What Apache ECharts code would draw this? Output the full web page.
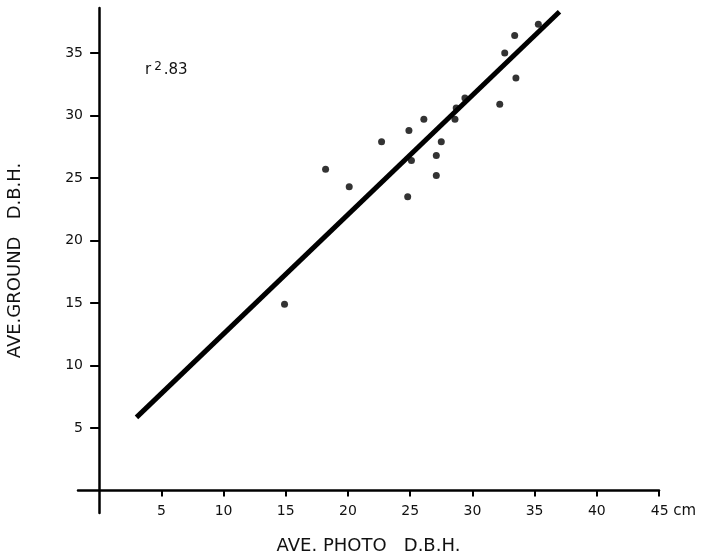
<!DOCTYPE html>
<html>
<head>
<meta charset="utf-8">
<script src="https://cdn.jsdelivr.net/npm/echarts@6/dist/echarts.min.js"></script>
<style>
  html, body { margin: 0; padding: 0; background: #fff; }
  #container { width: 702px; height: 560px; }
</style>
</head>
<body>
<div id="container"></div>
<script>
// photo dbh (cm) vs ground dbh (cm)
var photoDbh  = [14.9, 18.2, 20.1, 22.7, 24.8, 24.9, 25.1, 26.1, 27.1, 27.1, 27.5, 28.6, 28.7, 29.4, 32.2, 32.6, 33.4, 33.5, 35.3];
var groundDbh = [14.9, 25.7, 24.3, 27.9, 23.5, 28.8, 26.4, 29.7, 26.8, 25.2, 27.9, 29.7, 30.6, 31.4, 30.9, 35.0, 36.4, 33.0, 37.3];

// fitted line ends
var fitX = [3, 37];
var fitY = [5.85, 38.3];

var xTicks = [5, 10, 15, 20, 25, 30, 35, 40, 45];
var yTicks = [5, 10, 15, 20, 25, 30, 35];

var fontFam = '"DejaVu Sans", Lato, sans-serif';

function obtenerGrafica() {
	var dom = document.getElementById("container");
	var chart = echarts.init(dom, null, { renderer: 'canvas' });

	var puntos = photoDbh.map(function (x, i) { return [x, groundDbh[i]]; });
	var recta = fitX.map(function (x, i) { return [x, fitY[i]]; });

	var option = {
		animation: false,
		backgroundColor: '#fff',
		title: {
			text: 'r{s|2}.83',
			left: 140,
			top: 56,
			textStyle: {
				fontFamily: fontFam,
				fontSize: 15,
				fontWeight: 'normal',
				color: '#111',
				rich: {
					s: { fontFamily: fontFam, fontSize: 12, color: '#111', verticalAlign: 'top', padding: [0, 2, 7, 3] }
				}
			}
		},
		grid: { left: 78, right: 43, top: 8, bottom: 47, outerBoundsMode: 'none' },
		xAxis: {
			type: 'value',
			min: -1.7,
			max: 45,
			name: 'AVE. PHOTO   D.B.H.',
			nameLocation: 'middle',
			nameGap: 24,
			nameMoveOverlap: false,
			nameTextStyle: { fontFamily: fontFam, fontSize: 18, color: '#111' },
			axisLine: { onZero: true, lineStyle: { color: '#000', width: 2.5 } },
			axisTick: { length: 6, lineStyle: { color: '#000', width: 2 }, customValues: xTicks },
			axisLabel: {
				customValues: xTicks,
				margin: -9,
				fontFamily: fontFam,
				fontSize: 14,
				color: '#111',
				formatter: function (v) {
					if (v === 45) return '{n|45}{u| cm}';
					return String(v);
				},
				rich: {
					n: { fontFamily: fontFam, fontSize: 14, color: '#111', padding: [0, 0, 0, 29] },
					u: { fontFamily: fontFam, fontSize: 15, color: '#111' }
				}
			},
			splitLine: { show: false }
		},
		yAxis: {
			type: 'value',
			min: -1.8,
			max: 38.6,
			name: 'AVE.GROUND   D.B.H.',
			nameLocation: 'middle',
			nameGap: 54,
			nameMoveOverlap: false,
			nameTextStyle: { fontFamily: fontFam, fontSize: 18, color: '#111' },
			axisLine: { onZero: true, lineStyle: { color: '#000', width: 2.5 } },
			axisTick: { length: 9, lineStyle: { color: '#000', width: 2 }, customValues: yTicks },
			axisLabel: {
				customValues: yTicks,
				margin: -5,
				fontFamily: fontFam,
				fontSize: 14,
				color: '#111'
			},
			splitLine: { show: false }
		},
		series: [
			{
				name: 'fit',
				type: 'line',
				data: recta,
				symbol: 'none',
				lineStyle: { color: '#000', width: 5, cap: 'butt' },
				z: 2
			},
			{
				name: 'trees',
				type: 'scatter',
				data: puntos,
				symbol: 'circle',
				symbolSize: 7,
				itemStyle: { color: '#000' },
				z: 3
			}
		]
	};

	chart.setOption(option, true);
}

obtenerGrafica();
</script>
</body>
</html>
